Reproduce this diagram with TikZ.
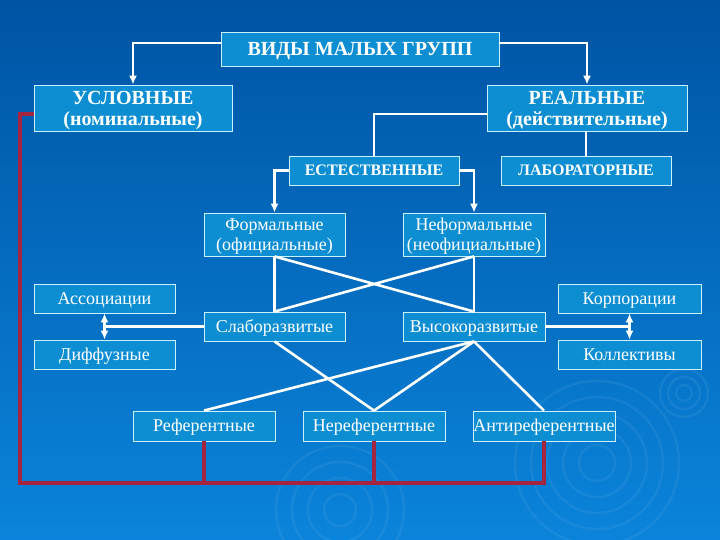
\documentclass[tikz,border=0pt]{standalone}
\usepackage{fontspec}
\setmainfont{Liberation Serif}
\usepackage{xcolor}
\usetikzlibrary{arrows.meta}

\definecolor{bgtop}{RGB}{0,84,164}
\definecolor{bgbot}{RGB}{10,132,218}
\definecolor{boxfill}{RGB}{14,142,210}
\definecolor{boxline}{RGB}{200,240,255}
\definecolor{redline}{RGB}{165,36,64}

\begin{document}
\begin{tikzpicture}[x=1pt,y=-1pt,
  box/.style={draw=boxline,fill=boxfill,text=white,line width=0.8pt,inner sep=0pt,align=center,
    font=\fontsize{18}{20}\selectfont,text height=11.8pt,text depth=0pt},
  two lines/.style={text height=31.8pt},
  head/.style={box,font=\fontsize{20}{21}\selectfont\bfseries,text height=13.2pt},
  head two lines/.style={text height=34.2pt},
  small head/.style={box,font=\fontsize{16}{18}\selectfont\bfseries,text height=10.6pt},
  wline/.style={draw=white,line width=2.6pt},
  arr/.style={wline,-{Latex[length=9pt,width=8pt]}},
  darr/.style={wline,{Latex[length=9pt,width=8pt]}-{Latex[length=9pt,width=8pt]}},
  rline/.style={draw=redline,line width=3.2pt},
  ripple/.style={draw=white,opacity=0.06,line width=2.5pt}]
\shade[top color=bgtop,bottom color=bgbot] (0,0) rectangle (720,540);
\useasboundingbox (0,0) rectangle (720,540);
\foreach \r in {18,34,50,66,82} \draw[ripple] (597,463) circle (\r);
\foreach \r in {16,32,48,64} \draw[ripple] (340,510) circle (\r);
\foreach \r in {8,16,24} \draw[ripple] (684,393) circle (\r);

\node (vidy) at (360,49) [head,minimum width=278,minimum height=34] {ВИДЫ МАЛЫХ ГРУПП};
\node (uslov) at (133,108) [head,head two lines,minimum width=198,minimum height=46] {УСЛОВНЫЕ\\(номинальные)};
\node (real) at (587,108) [head,head two lines,minimum width=200,minimum height=46] {РЕАЛЬНЫЕ\\(действительные)};
\node (estest) at (374,170.5) [small head,minimum width=170,minimum height=29] {ЕСТЕСТВЕННЫЕ};
\node (labor) at (586,170.5) [small head,minimum width=170,minimum height=29] {ЛАБОРАТОРНЫЕ};
\node (formal) at (274.5,234.5) [box,two lines,minimum width=141,minimum height=43] {Формальные\\(официальные)};
\node (neformal) at (474,234.5) [box,two lines,minimum width=142,minimum height=43] {Неформальные\\(неофициальные)};
\node (assoc) at (104.5,298.5) [box,minimum width=141,minimum height=29] {Ассоциации};
\node (diff) at (104.5,354.5) [box,minimum width=141,minimum height=29] {Диффузные};
\node (slabo) at (274.5,326.5) [box,minimum width=141,minimum height=29] {Слаборазвитые};
\node (vysoko) at (474,326.5) [box,minimum width=142,minimum height=29] {Высокоразвитые};
\node (korp) at (629.5,298.5) [box,minimum width=143,minimum height=29] {Корпорации};
\node (koll) at (629.5,354.5) [box,minimum width=143,minimum height=29] {Коллективы};
\node (ref) at (204,426) [box,minimum width=142,minimum height=30] {Референтные};
\node (neref) at (374,426) [box,minimum width=142,minimum height=30] {Нереферентные};
\node (antiref) at (544,426) [box,minimum width=142,minimum height=30] {Антиреферентные};

\coordinate (assocjoin) at (assoc.south |- slabo.west);
\coordinate (korpjoin) at (korp.south |- vysoko.east);
\coordinate (redbottom) at (20,483);
\coordinate (redtop) at (20,114);

\draw[arr] ([yshift=6pt]vidy.west) -| (uslov.north);
\draw[arr] ([yshift=6pt]vidy.east) -| (real.north);
\draw[wline] ([yshift=-6pt]real.west) -| (estest.north);
\draw[wline] (labor.north |- real.south) -- (labor.north);
\draw[arr] (estest.west) -| (formal.north);
\draw[arr] (estest.east) -| (neformal.north);
\draw[wline] (formal.south) -- (slabo.north);
\draw[wline] (neformal.south) -- (vysoko.north);
\draw[wline] (formal.south) -- (vysoko.north);
\draw[wline] (neformal.south) -- (slabo.north);
\draw[wline] (slabo.west) -- (assocjoin);
\draw[darr] (assoc.south) -- (diff.north);
\draw[wline] (vysoko.east) -- (korpjoin);
\draw[darr] (korp.south) -- (koll.north);
\draw[wline] (slabo.south) -- (neref.north);
\draw[wline] (vysoko.south) -- (ref.north);
\draw[wline] (vysoko.south) -- (neref.north);
\draw[wline] (vysoko.south) -- (antiref.north);

\draw[rline] (ref.south) -- (ref.south |- redbottom);
\draw[rline] (neref.south) -- (neref.south |- redbottom);
\draw[rline] (antiref.south) -- (antiref.south |- redbottom) -- (redbottom) -- (redtop) -- (redtop -| uslov.west);
\end{tikzpicture}
\end{document}
